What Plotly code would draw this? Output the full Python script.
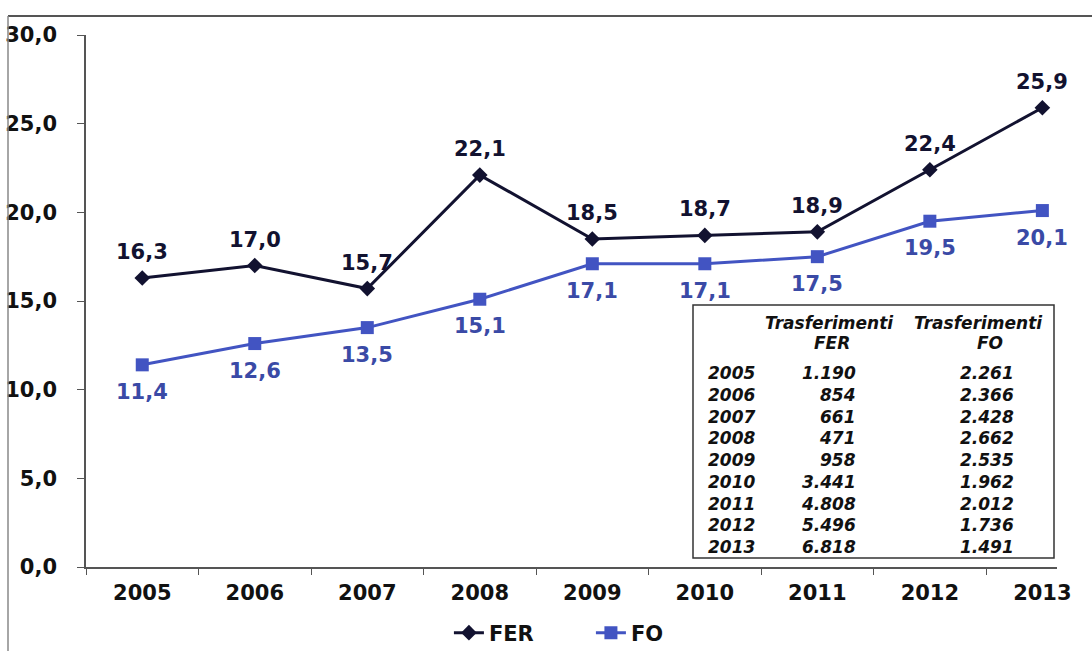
import plotly.graph_objects as go

years = ["2005", "2006", "2007", "2008", "2009", "2010", "2011", "2012", "2013"]
fer = [16.3, 17.0, 15.7, 22.1, 18.5, 18.7, 18.9, 22.4, 25.9]
fo = [11.4, 12.6, 13.5, 15.1, 17.1, 17.1, 17.5, 19.5, 20.1]
trasf_fer = [1190, 854, 661, 471, 958, 3441, 4808, 5496, 6818]
trasf_fo = [2261, 2366, 2428, 2662, 2535, 1962, 2012, 1736, 1491]
y_ticks = [0, 5, 10, 15, 20, 25, 30]

FER_C = "#121230"
FO_C = "#4254c2"
FO_TXT = "#3a4aa6"
FONT = "DejaVu Sans"

def it(v):
    return f"{v:.1f}".replace(".", ",")

def th(v):
    return f"{v:,}".replace(",", ".")

fig = go.Figure()
fig.add_trace(go.Scatter(
    x=years, y=fer, name="FER", mode="lines+markers",
    line=dict(color=FER_C, width=3),
    marker=dict(symbol="diamond", size=12, color=FER_C),
))
fig.add_trace(go.Scatter(
    x=years, y=fo, name="FO", mode="lines+markers",
    line=dict(color=FO_C, width=3),
    marker=dict(symbol="square", size=13, color=FO_C),
))

ann = []
for i, v in enumerate(fer):
    ann.append(dict(x=i, y=v, text=it(v), showarrow=False, yshift=26,
                    font=dict(family=FONT, size=21, color=FER_C, weight="bold")))
for i, v in enumerate(fo):
    ann.append(dict(x=i, y=v, text=it(v), showarrow=False, yshift=-27,
                    font=dict(family=FONT, size=21, color=FO_TXT, weight="bold")))

# table inside the plot
tfont = dict(family=FONT, size=17, color="#111111", weight="bold", style="italic")
def py(p):
    return (567 - p) / 532.0
def px(p):
    return (p - 86) / 971.0

ann.append(dict(xref="paper", yref="paper", x=px(829), y=py(323), text="Trasferimenti",
                showarrow=False, font=tfont, xanchor="center", yanchor="middle"))
ann.append(dict(xref="paper", yref="paper", x=px(832), y=py(343), text="FER",
                showarrow=False, font=tfont, xanchor="center", yanchor="middle"))
ann.append(dict(xref="paper", yref="paper", x=px(978), y=py(323), text="Trasferimenti",
                showarrow=False, font=tfont, xanchor="center", yanchor="middle"))
ann.append(dict(xref="paper", yref="paper", x=px(990), y=py(343), text="FO",
                showarrow=False, font=tfont, xanchor="center", yanchor="middle"))
for i, (yr, a, b) in enumerate(zip(years, trasf_fer, trasf_fo)):
    yy = py(373 + 21.75 * i)
    ann.append(dict(xref="paper", yref="paper", x=px(706), y=yy, text=yr, showarrow=False,
                    font=tfont, xanchor="left", yanchor="middle"))
    ann.append(dict(xref="paper", yref="paper", x=px(858), y=yy, text=th(a), showarrow=False,
                    font=tfont, xanchor="right", yanchor="middle"))
    ann.append(dict(xref="paper", yref="paper", x=px(1016), y=yy, text=th(b), showarrow=False,
                    font=tfont, xanchor="right", yanchor="middle"))

shapes = [
    dict(type="rect", xref="paper", yref="paper", x0=px(693), x1=px(1054), y0=py(558), y1=py(305),
         line=dict(color="#333333", width=1.5), fillcolor="white", layer="below"),
    dict(type="line", xref="paper", yref="paper", x0=px(8), x1=px(1100), y0=py(16), y1=py(16),
         line=dict(color="#555555", width=2)),
    dict(type="line", xref="paper", yref="paper", x0=px(8), x1=px(8), y0=py(16), y1=py(660),
         line=dict(color="#888888", width=1.5)),
]

fig.update_layout(
    width=1092, height=651,
    margin=dict(l=86, r=35, t=35, b=84, autoexpand=False),
    paper_bgcolor="white", plot_bgcolor="white",
    separators=",.",
    showlegend=True,
    legend=dict(orientation="h", x=0.52, xanchor="center", y=py(633), yanchor="middle",
                font=dict(family=FONT, size=21, color="#111111", weight="bold"),
                itemwidth=30, entrywidth=97, bgcolor="rgba(0,0,0,0)"),
    annotations=ann, shapes=shapes,
    xaxis=dict(type="category", range=[-0.5, 8.13], showgrid=False, zeroline=False,
               showline=True, linecolor="#555555", linewidth=1.5, automargin=False,
               ticks="outside", tickson="boundaries", ticklen=6, tickcolor="#555555",
               tickfont=dict(family=FONT, size=21, color="#111111", weight="bold"),
               ticklabelstandoff=6),
    yaxis=dict(range=[0, 30], tickvals=y_ticks, tickformat=".1f", showgrid=False,
               zeroline=False, showline=True, linecolor="#555555", linewidth=1.5,
               automargin=False,
               ticks="outside", ticklen=7, tickcolor="#555555",
               tickfont=dict(family=FONT, size=21, color="#111111", weight="bold"),
               ticklabelstandoff=16),
)

css = ("var s=document.createElement('style');"
       "s.textContent='html,body{margin:0;padding:0;overflow:hidden;}';"
       "document.head.appendChild(s);")
fig.write_html("out.html", config={"displayModeBar": False}, post_script=css)
